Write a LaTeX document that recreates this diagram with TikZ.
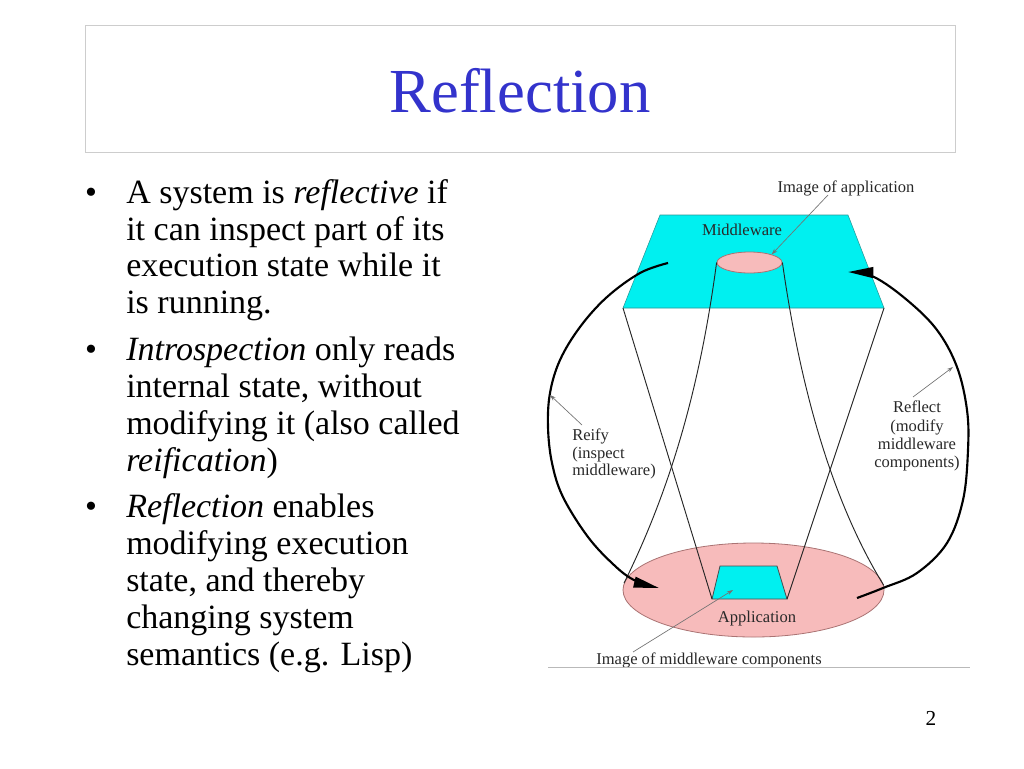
\documentclass[tikz,border=0pt]{standalone}
\usepackage{fontspec}
\setmainfont{Liberation Serif}
\usetikzlibrary{arrows.meta,shapes.geometric}
\definecolor{titleblue}{RGB}{51,51,204}
\definecolor{mwcyan}{RGB}{0,240,240}
\definecolor{cyanedge}{RGB}{40,150,150}
\definecolor{apppink}{RGB}{247,187,187}
\definecolor{pinkedge}{RGB}{170,115,115}
\definecolor{boxgray}{RGB}{205,205,205}
\definecolor{rulegray}{RGB}{185,185,185}
\definecolor{lblgray}{RGB}{40,40,40}
\begin{document}
\begin{tikzpicture}[x=0.75pt,y=-0.75pt,
  bodytext/.style={anchor=base west,inner sep=0pt,font=\fontsize{25.5}{27.75}\selectfont},
  bul/.style={anchor=base,inner sep=0pt,font=\fontsize{25.5}{27.75}\selectfont},
  lbl/.style={inner sep=0pt,text=lblgray,font=\fontsize{12.4}{13.2}\selectfont},
  thinline/.style={draw=black!85,line width=0.7pt},
  bigarc/.style={draw=black,line width=1.6pt},
  pointer/.style={draw=black!55,line width=0.5pt,-{Stealth[length=4.5pt,width=3pt]}},
  bighead/.style={-{Triangle[length=19pt,width=8pt]}}
]
\useasboundingbox[fill=white] (0,0) rectangle (1024,768);

% title
\draw[draw=boxgray,line width=0.75pt] (85,25) rectangle (955,152);
\node[anchor=base,inner sep=0pt,text=titleblue,font=\fontsize{47}{50}\selectfont] (title) at (520,112) {Reflection};

% bullets
\node[bul] (b1) at (91,203) {•};
\node[bul] (b2) at (91,360) {•};
\node[bul] (b3) at (91,517) {•};
\node[bodytext] (t1) at (126,203) {A system is \textit{reflective} if};
\node[bodytext] (t2) at (126,240) {it can inspect part of its};
\node[bodytext] (t3) at (126,276) {execution state while it};
\node[bodytext] (t4) at (126,313) {is running.};
\node[bodytext] (t5) at (126,360) {\textit{Introspection} only reads};
\node[bodytext] (t6) at (126,397) {internal state, without};
\node[bodytext] (t7) at (126,434) {modifying it (also called};
\node[bodytext] (t8) at (126,471) {\textit{reification})};
\node[bodytext] (t9) at (126,517) {\textit{Reflection} enables};
\node[bodytext] (t10) at (126,554) {modifying execution};
\node[bodytext] (t11) at (126,591) {state, and thereby};
\node[bodytext] (t12) at (126,628) {changing system};
\node[bodytext] (t13) at (126,665) {semantics (e.g. Lisp)};

% page number
\node[anchor=base,inner sep=0pt,font=\fontsize{16}{18}\selectfont] (pg) at (931,725) {2};

% diagram coordinates
\coordinate (mwTL) at (660,215);
\coordinate (mwTR) at (848,215);
\coordinate (mwBR) at (884,308);
\coordinate (mwBL) at (623,308);
\coordinate (apTL) at (720,566);
\coordinate (apTR) at (777,566);
\coordinate (apBR) at (787,599);
\coordinate (apBL) at (712,599);

% middleware plane
\draw[fill=mwcyan,draw=cyanedge,line width=0.4pt] (mwTL) -- (mwTR) -- (mwBR) -- (mwBL) -- cycle;
\node[ellipse,draw=pinkedge,fill=apppink,line width=0.6pt,inner sep=0pt,
      minimum width=48.75pt,minimum height=15.75pt] (imgA) at (749.5,262.5) {};
\node[lbl,anchor=base] (mw) at (742,235) {Middleware};

% application plane
\node[ellipse,draw=pinkedge,fill=apppink,line width=0.6pt,inner sep=0pt,
      minimum width=195.75pt,minimum height=70.5pt] (appE) at (753.5,590) {};
\draw[fill=mwcyan,draw=black!70,line width=0.6pt] (apTL) -- (apTR) -- (apBR) -- (apBL) -- cycle;
\node[lbl,anchor=base] (app) at (757,622) {Application};

% funnel lines
\draw[thinline] (mwBL) -- (apBL);
\draw[thinline] (mwBR) -- (apBR);
\draw[thinline] (imgA.west) .. controls (702,372) and (676,478) .. (appE.177);
\draw[thinline] (imgA.east) .. controls (797,365) and (825,490) .. (appE.2);

% big arcs
\coordinate (lArcS) at (668,263);
\coordinate (lArcT) at (659,588);
\coordinate (rArcS) at (857,598);
\coordinate (rArcT) at (848,272);
\draw[bigarc,bighead] plot[smooth,tension=0.6] coordinates {(lArcS) (640,273) (607,297) (580,327) (560,360) (550,393) (548,427) (552,463) (563,497) (588,537) (614,565) (634,580) (lArcT)};
\draw[bigarc,bighead] plot[smooth,tension=0.6] coordinates {(rArcS) (883,588) (917,573) (947,543) (963,500) (968,450) (967,410) (957,367) (937,330) (907,300) (874,277) (rArcT)};

% labels and pointers
\node[lbl,anchor=base] (imgapp) at (846,192) {Image of application};
\coordinate (iaS) at (828,195);
\draw[pointer] (iaS) -- (imgA.20);

\node[lbl,anchor=base] (imc) at (709,664) {Image of middleware components};
\coordinate (imS) at (633,652);
\coordinate (imT) at (733,590);
\draw[pointer] (imS) -- (imT);

\node[lbl,anchor=north west,align=left] (reify) at (572,428.5) {Reify\\(inspect\\middleware)};
\coordinate (rfS) at (582,425);
\coordinate (rfT) at (550,395);
\draw[pointer] (rfS) -- (rfT);

\node[lbl,anchor=north,align=center,font=\fontsize{12.4}{13.6}\selectfont] (reflect) at (917,401) {Reflect\\(modify\\middleware\\components)};
\coordinate (rlS) at (913,397);
\coordinate (rlT) at (953,367);
\draw[pointer] (rlS) -- (rlT);

% bottom rule
\coordinate (ruleL) at (548,667);
\coordinate (ruleR) at (970,667);
\draw[rulegray,line width=0.75pt] (ruleL) -- (ruleR);
\end{tikzpicture}
\end{document}
